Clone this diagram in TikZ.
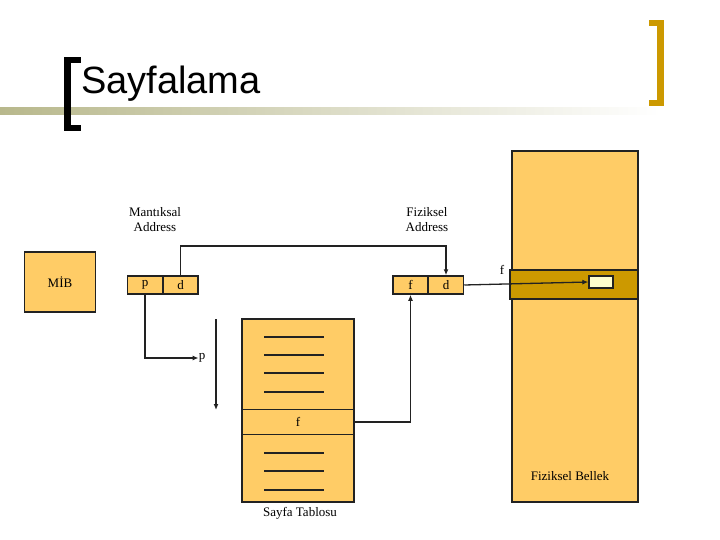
\documentclass[tikz,border=0pt]{standalone}
\usepackage{fontspec}
\setmainfont{Liberation Serif}
\newfontfamily\titlefont{Liberation Sans}
\usetikzlibrary{arrows.meta}
\definecolor{boxfill}{HTML}{FFCC66}
\definecolor{band}{HTML}{CC9900}
\definecolor{pale}{HTML}{FFFFCC}
\definecolor{olive}{HTML}{B8B88C}
\definecolor{ink}{HTML}{222222}
\begin{document}
\begin{tikzpicture}[x=1pt,y=-1pt,
  bx/.style={draw=ink,line width=1.5pt,fill=boxfill},
  con/.style={draw=ink,line width=1.3pt},
  arr/.style={con,-{Latex[length=6pt,width=5pt]}},
  lbl/.style={font=\fontsize{13}{15}\selectfont,align=center,inner sep=0pt},
  row/.style={draw=ink,line width=1.3pt}]
\useasboundingbox (0,0) rectangle (720,540);
% title decoration
\shade[left color=olive,right color=white] (0,108) rectangle (660,115);
\fill[black] (64,57) rectangle (71,131);
\fill[black] (64,57) rectangle (81,63);
\fill[black] (64,125) rectangle (81,131);
\fill[band] (657,20) rectangle (664,106);
\fill[band] (649,20) rectangle (664,26);
\fill[band] (649,100) rectangle (664,106);
\node[anchor=base west,inner sep=0pt,font=\titlefont\fontsize{38}{40}\selectfont] (title) at (81,94) {Sayfalama};
% physical memory
\draw[bx] (512,151) rectangle (638,502);
\draw[draw=ink,line width=1.5pt,fill=band] (510,270) rectangle (638,299);
\node[draw=ink,line width=1.3pt,fill=pale,minimum width=24pt,minimum height=12pt,inner sep=0pt] (cell) at (601,282) {};
\node[lbl] (fb) at (570,476) {Fiziksel Bellek};
\node[lbl] (fl) at (502,270) {f};
% MIB
\node[bx,minimum width=71pt,minimum height=60pt,inner sep=0pt,lbl] (mib) at (60,282) {MİB};
% logical address
\node[bx,lbl,minimum width=35pt,minimum height=18pt] (p) at (145,285) {p};
\node[bx,lbl,minimum width=35pt,minimum height=18pt] (d1) at (180.5,285) {d};
\node[bx,lbl,minimum width=35pt,minimum height=18pt] (f) at (410.5,285) {f};
\node[bx,lbl,minimum width=35pt,minimum height=18pt] (d2) at (446,285) {d};
\node[lbl] (la) at (155,220) {Mantıksal\\Address};
\node[lbl] (pa) at (427,220) {Fiziksel\\Address};
% page table
\draw[bx] (242,319) rectangle (354,502);
\node[bx,lbl,minimum width=112pt,minimum height=25pt,inner sep=0pt] (frow) at (298,422) {f};
\foreach \y in {337,355,373,392,453,471,490} \draw[row] (264,\y) -- (324,\y);
\node[lbl] (st) at (300,513) {Sayfa Tablosu};
\node[lbl] (pl) at (202,358) {p};
\coordinate (pdn1) at (216,319);
\coordinate (pdn2) at (216,410);
% connectors
\draw[arr] (d1.north) |- (300,246) -| (d2.north);
\draw[arr] (p.south) |- (pl.west);
\draw[arr] (pdn1) -- (pdn2);
\draw[arr] (frow.east) -| (f.south);
\draw[arr] (d2.east) -- (cell.west);
\end{tikzpicture}
\end{document}
